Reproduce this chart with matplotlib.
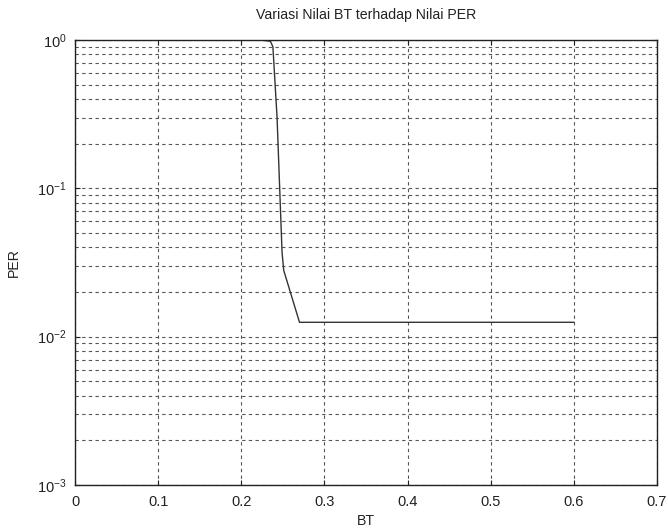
import numpy as np
import matplotlib
matplotlib.use('Agg')
import matplotlib.pyplot as plt
from matplotlib.ticker import LogLocator

plt.rcParams['font.family'] = ['Liberation Sans', 'DejaVu Sans']
plt.rcParams['mathtext.fontset'] = 'custom'
plt.rcParams['mathtext.rm'] = 'Liberation Sans'
plt.rcParams['mathtext.it'] = 'Liberation Sans'

bt = [0.224, 0.235, 0.238, 0.243, 0.249, 0.251, 0.27, 0.6]
per = [1.0, 0.98, 0.9, 0.3, 0.037, 0.028, 0.0125, 0.0125]
xticks = [0, 0.1, 0.2, 0.3, 0.4, 0.5, 0.6, 0.7]
xlabels = ['0', '0.1', '0.2', '0.3', '0.4', '0.5', '0.6', '0.7']
yticks = [1e-3, 1e-2, 1e-1, 1e0]
ylabels = ['$10^{-3}$', '$10^{-2}$', '$10^{-1}$', '$10^{0}$']

fig = plt.figure(figsize=(6.68, 5.3), dpi=100)
ax = fig.add_axes([0.1123, 0.0849, 0.8713, 0.8396])

ax.plot(bt, per, color='#333333', linewidth=1.0)
ax.set_yscale('log')
ax.set_xlim(0, 0.7)
ax.set_ylim(1e-3, 1)
ax.set_xticks(xticks)
ax.set_xticklabels(xlabels)
ax.set_yticks(yticks)
ax.set_yticklabels(ylabels)
ax.yaxis.set_minor_locator(LogLocator(base=10, subs=np.arange(2, 10)))
ax.yaxis.set_minor_formatter(plt.NullFormatter())

ax.grid(True, which='major', axis='both', color='#555555', linestyle=(0, (3, 3)), linewidth=0.8)
ax.grid(True, which='minor', axis='y', color='#555555', linestyle=(0, (3, 3)), linewidth=0.8)
ax.set_axisbelow(True)

ax.tick_params(which='both', direction='in', top=True, right=True, labelsize=10.5, colors='#222222')
ax.tick_params(axis='x', pad=7)
ax.tick_params(axis='y', pad=6)
ax.tick_params(which='minor', length=0)
for s in ax.spines.values():
    s.set_linewidth(1.0)
    s.set_color('#222222')

ax.set_title('Variasi Nilai BT terhadap Nilai PER', fontsize=10.2, color='#222222', pad=15)
ax.set_xlabel('BT', fontsize=10.2, color='#222222', labelpad=4)
ax.set_ylabel('PER', fontsize=10.2, color='#222222', labelpad=12)

fig.savefig('out.png', dpi=100)
